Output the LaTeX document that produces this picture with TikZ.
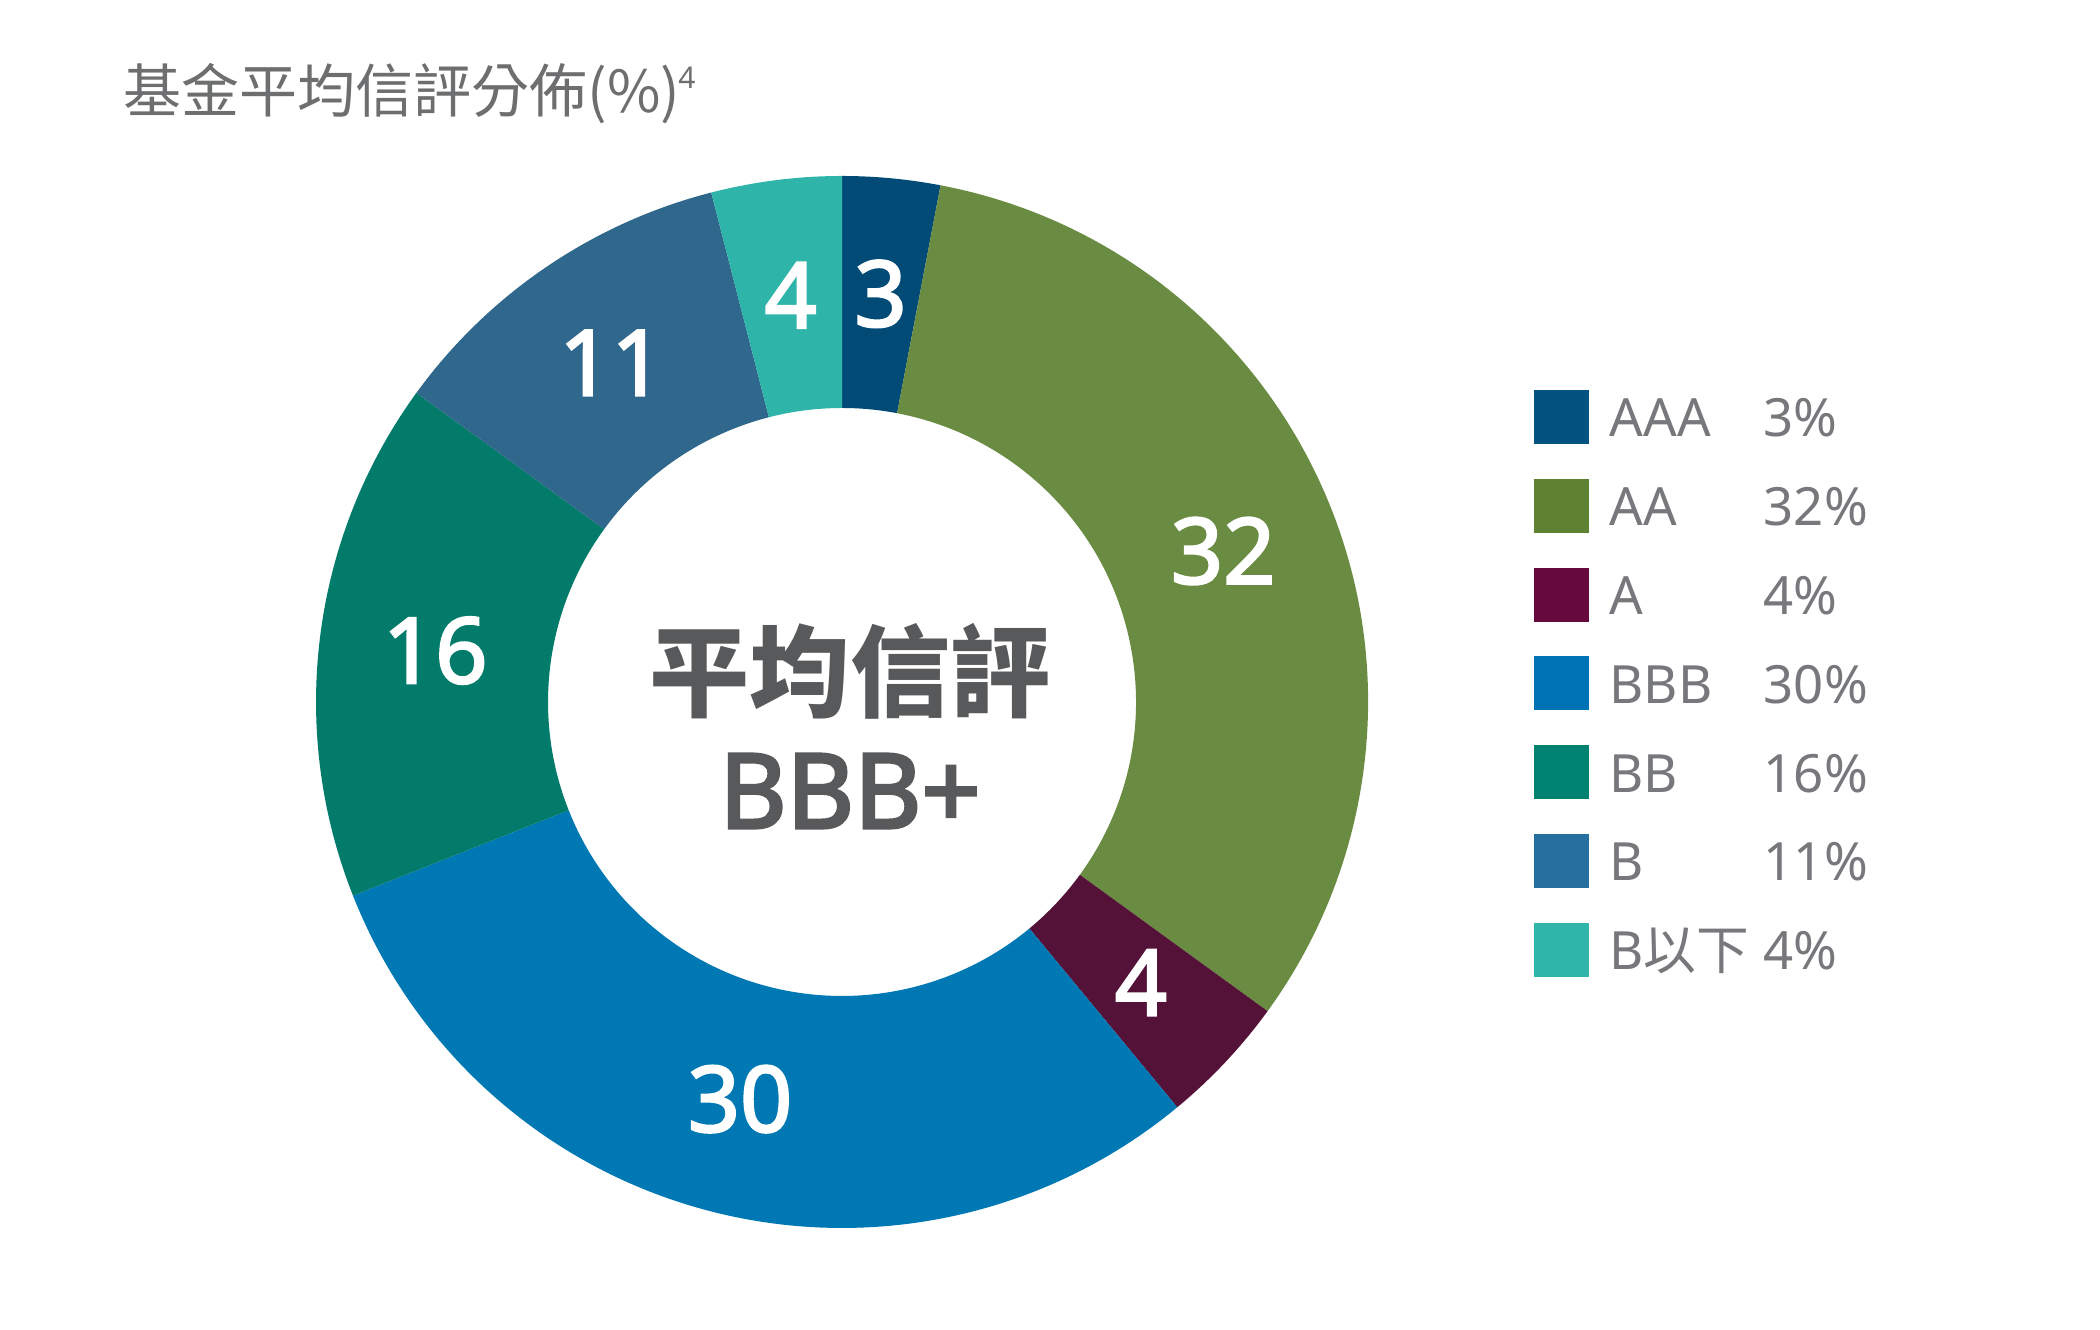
\documentclass[tikz,border=0pt]{standalone}
\usepackage{fontspec}
\setmainfont{Noto Sans}
\newfontfamily\cjk{Noto Sans CJK TC}
\newfontfamily\lblfont[FakeBold=2.5]{Noto Sans}
\newfontfamily\boldfont[FakeBold=3]{Noto Sans}
\usetikzlibrary{calc}
\definecolor{caaa}{HTML}{024B77}
\definecolor{caa}{HTML}{6A8B42}
\definecolor{ca}{HTML}{541238}
\definecolor{cbbb}{HTML}{0078B4}
\definecolor{cbb}{HTML}{037B6B}
\definecolor{cb}{HTML}{30678C}
\definecolor{cbl}{HTML}{2EB4A9}
\definecolor{laaa}{HTML}{035381}
\definecolor{laa}{HTML}{5F8232}
\definecolor{la}{HTML}{660A3D}
\definecolor{lbbb}{HTML}{0073B6}
\definecolor{lbb}{HTML}{008270}
\definecolor{lb}{HTML}{25709E}
\definecolor{lbl}{HTML}{2FB5A9}
\definecolor{titlegray}{HTML}{6D6E70}
\definecolor{leggray}{HTML}{77787B}
\definecolor{centergray}{HTML}{58595B}
\begin{document}
\begin{tikzpicture}[x=0.1mm,y=0.1mm,
  slicelbl/.style={text=white,font=\lblfont\fontsize{26pt}{26pt}\selectfont,inner sep=0pt},
  legsq/.style={minimum width=5.5mm,minimum height=5.4mm,inner sep=0pt,draw=none},
  legtxt/.style={text=leggray,font=\fontsize{15pt}{16pt}\selectfont,inner sep=0pt,anchor=base west}]
\useasboundingbox[fill=white] (0,0) rectangle (2100,1330);
% title
\node[anchor=base west,inner sep=0pt,text=titlegray,font=\cjk\fontsize{16.5pt}{17pt}\selectfont] (title) at (123,1217) {基金平均信評分佈(\%)};
\node[anchor=center,inner sep=0pt,text=titlegray,font=\fontsize{8.5pt}{9pt}\selectfont] (fn) at (687,1252) {4};
% donut
\coordinate (c) at (842,628);
\foreach \a/\b/\col/\lab/\n in {90/79.2/caaa/3/1, 79.2/-36/caa/32/2, -36/-50.4/ca/4/3, -50.4/-158.4/cbbb/30/4, -158.4/-216/cbb/16/5, -216/-255.6/cb/11/6, -255.6/-270/cbl/4/7}{
  \fill[\col] ($(c)+(\a:52.6mm)$) arc[start angle=\a,end angle=\b,radius=52.6mm] -- ($(c)+(\b:29.4mm)$) arc[start angle=\b,end angle=\a,radius=29.4mm] -- cycle;
  \pgfmathsetmacro\m{(\a+\b)/2}
  \node[slicelbl] (l\n) at ($(c)+(\m:41.0mm)$) {\lab};
}
% center text
\node[anchor=base,inner sep=0pt,text=centergray,font=\cjk\bfseries\fontsize{28.5pt}{29pt}\selectfont] (ctitle) at (850,620) {平均信評};
\node[anchor=base,inner sep=0pt,text=centergray,font=\boldfont\fontsize{29.5pt}{30pt}\selectfont] (cval) at (850,502) {BBB+};
% legend
\foreach \i/\col/\nm/\pc in {0/laaa/AAA/3\%, 1/laa/AA/32\%, 2/la/A/4\%, 3/lbbb/BBB/30\%, 4/lbb/BB/16\%, 5/lb/B/11\%, 6/lbl/B{\cjk 以下}/4\%}{
  \pgfmathsetmacro\yy{913-88.8*\i}
  \node[legsq,fill=\col] (sq\i) at (1561.5,\yy) {};
  \node[legtxt] (nm\i) at (1609,\yy-20) {\nm};
  \node[legtxt] (pc\i) at (1763,\yy-20) {\pc};
}
\end{tikzpicture}
\end{document}
